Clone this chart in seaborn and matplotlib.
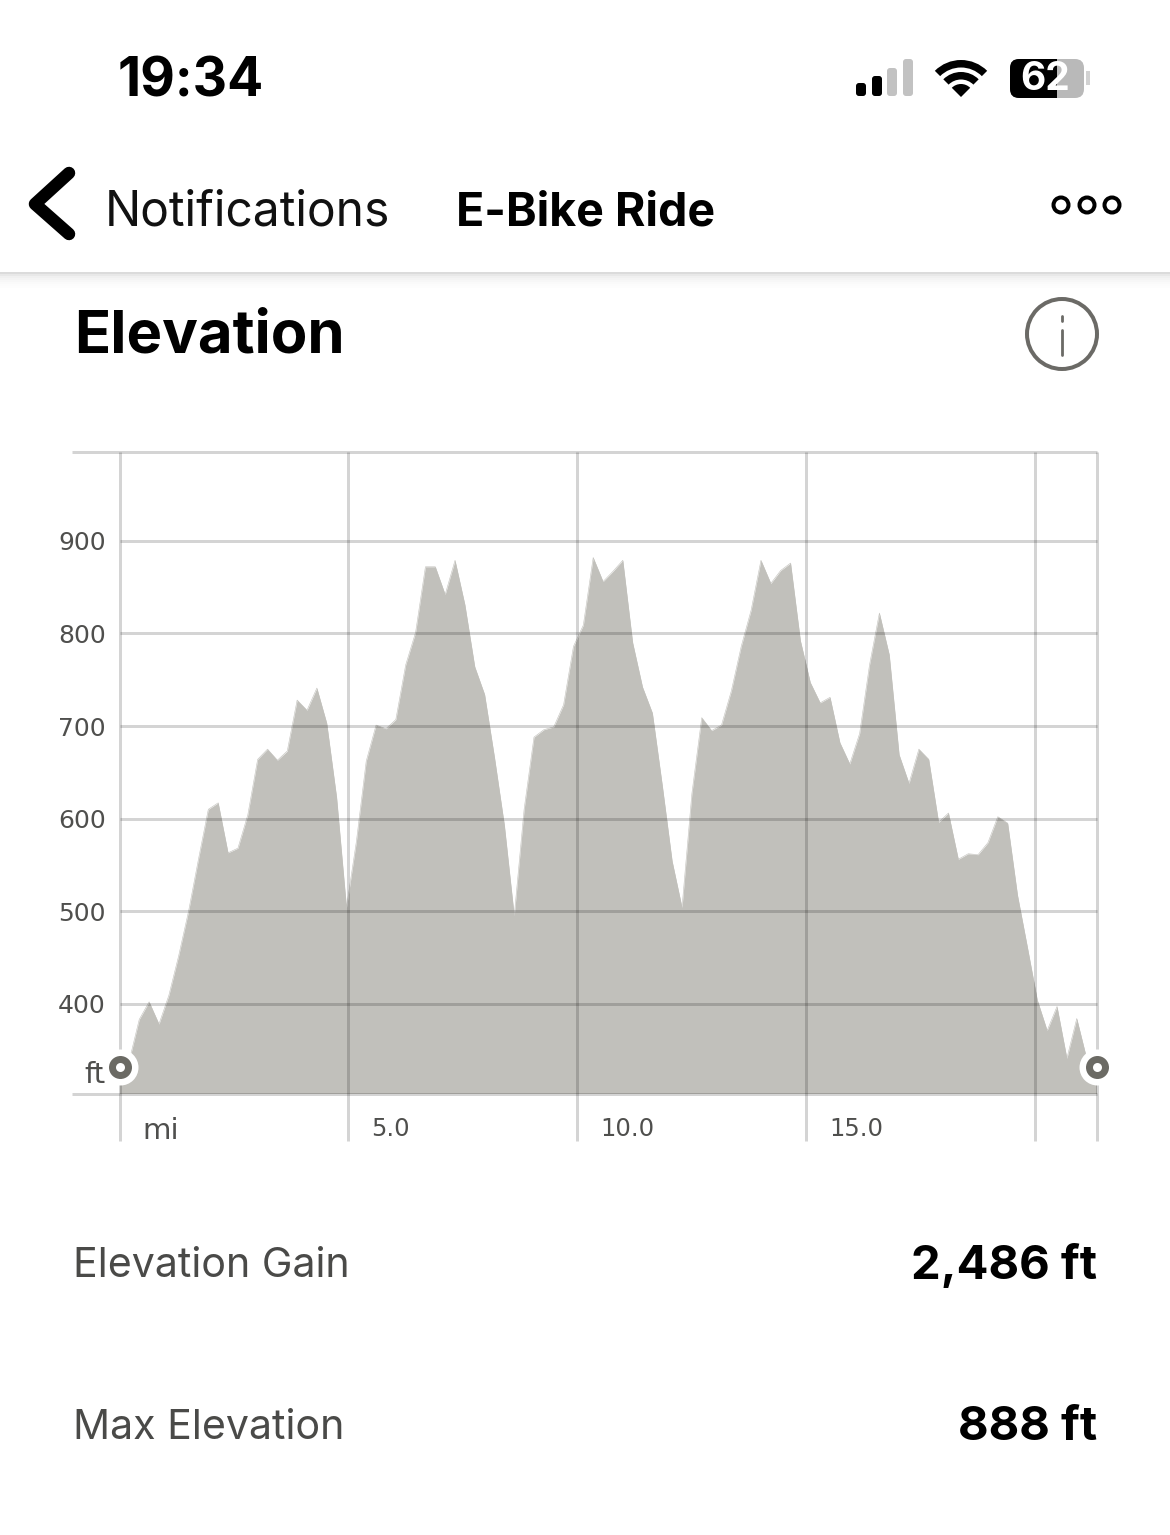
import matplotlib
matplotlib.use("Agg")
import matplotlib.pyplot as plt
import matplotlib.transforms as mtrans
from matplotlib.patches import Circle, FancyBboxPatch, Rectangle, Wedge
import numpy as np
import pandas as pd
import seaborn as sns

elevation_ft = [325, 339, 383, 402, 378, 409, 452, 500, 556, 610,
                617, 563, 568, 604, 664, 675, 663, 673, 728, 717,
                741, 703, 623, 504, 575, 662, 701, 697, 707, 766,
                801, 872, 872, 842, 879, 831, 764, 734, 666, 593,
                495, 610, 688, 696, 699, 723, 786, 809, 882, 856,
                867, 879, 790, 742, 714, 636, 554, 504, 627, 709,
                695, 701, 738, 786, 825, 879, 854, 868, 876, 792,
                747, 725, 731, 682, 659, 692, 766, 822, 777, 669,
                638, 675, 664, 596, 606, 556, 562, 561, 574, 602,
                595, 517, 461, 404, 371, 397, 341, 384, 341, 325]
total_miles = 21.35
y_ticks = [326, 400, 500, 600, 700, 800, 900]
y_labels = ["ft", "400", "500", "600", "700", "800", "900"]
x_ticks = [0, 5, 10, 15]
x_labels = ["mi", "5.0", "10.0", "15.0"]
x_grid = [0, 5, 10, 15, 20, 21.35]
y_grid = [400, 500, 600, 700, 800, 900]
y_floor, y_top = 303, 996
stats = [("Elevation Gain", "2,486 ft"), ("Max Elevation", "888 ft")]

W, H = 1170, 1535
sns.set_theme(style="white")
plt.rcParams["font.family"] = ["Inter", "DejaVu Sans"]
fig = plt.figure(figsize=(W / 100, H / 100), dpi=100, facecolor="white")
PT = 72 / 100

# page chrome, in pixel coordinates
bg = fig.add_axes([0, 0, 1, 1])
bg.set_xlim(0, W); bg.set_ylim(H, 0); bg.axis("off")
bg.text(118, 82, "19:34", fontsize=38.5, fontweight="bold", color="black", va="center", ha="left")
for x0, top, c in [(856, 83, "black"), (872, 76, "black"), (887, 68, "#c2c2c2"), (903, 59, "#c2c2c2")]:
    bg.add_patch(FancyBboxPatch((x0 + 2, top + 2), 6, 96 - top - 4, boxstyle="round,pad=2,rounding_size=3", fc=c, ec="none"))
for ro, w in [(37, 7.5), (25, 7.5), (13, 13)]:
    bg.add_patch(Wedge((961, 97), ro, 225, 315, width=w, fc="black", ec="none"))
batt = FancyBboxPatch((1016, 65), 62, 27, boxstyle="round,pad=6,rounding_size=9", fc="#b9b9b9", ec="none")
bg.add_patch(batt)
dark = FancyBboxPatch((1016, 65), 62, 27, boxstyle="round,pad=6,rounding_size=9", fc="black", ec="none")
bg.add_patch(dark)
dark.set_clip_path(Rectangle((1000, 50), 57, 60, transform=bg.transData))
bg.add_patch(Rectangle((1086, 71), 4, 14, fc="#d2d2d2", ec="none"))
bg.text(1045, 79, "62", fontsize=28, fontweight="bold", color="white", ha="center", va="center")

bg.plot([69, 35, 69], [173, 204, 234], color="black", lw=12.5 * PT, solid_capstyle="round", solid_joinstyle="round")
bg.text(105, 213, "Notifications", fontsize=34.5, color="#111111", va="center", ha="left")
bg.text(456, 213, "E-Bike Ride", fontsize=33.5, fontweight="bold", color="black", va="center", ha="left")
for cx in (1061, 1087, 1112):
    bg.add_patch(Circle((cx, 205), 7.5, fc="white", ec="black", lw=4 * PT))
for i, a in enumerate([0.14, 0.09, 0.06, 0.045, 0.03, 0.02, 0.012, 0.006]):
    bg.add_patch(Rectangle((0, 272 + i * 2), W, 2, fc="black", alpha=a, ec="none"))
bg.text(74, 337, "Elevation", fontsize=43, fontweight="bold", color="black", va="center", ha="left")
bg.add_patch(Circle((1062, 334), 35, fc="white", ec="#6b6a66", lw=4 * PT))
bg.plot([1062, 1062], [330, 355], color="#6b6a66", lw=2.8 * PT)
bg.plot([1062, 1062], [316, 321], color="#6b6a66", lw=2.8 * PT)
for (name, val), y in zip(stats, (1266, 1428)):
    bg.text(73, y, name, fontsize=29.6, color="#4a4a48", va="center", ha="left")
    bg.text(1097, y, val, fontsize=34, fontweight="bold", color="black", va="center", ha="right")

# chart
left, right, top, bottom = 119.5, 1096.5, 452, 1093.5
ax = fig.add_axes([left / W, 1 - bottom / H, (right - left) / W, (bottom - top) / H])
ax.patch.set_alpha(0)
miles = np.linspace(0, total_miles, len(elevation_ft))
df = pd.DataFrame({"miles": miles, "elevation": elevation_ft})
sns.lineplot(data=df, x="miles", y="elevation", ax=ax, color="#c1c0bb", lw=0.4, zorder=2)
ax.fill_between(df["miles"], df["elevation"], y_floor, color="#c1c0bb", lw=0, zorder=2)
ax.set_xlim(0, total_miles)
ax.set_ylim(y_floor, y_top)
ax.set_xlabel(""); ax.set_ylabel("")
sns.despine(ax=ax, left=True, bottom=True)

grid_kw = dict(color="#000000", alpha=0.17, lw=3 * PT, zorder=3, clip_on=False)
x_ext = -48 / ((right - left) / total_miles)
ax.hlines(y_grid, 0, total_miles, **grid_kw)
ax.hlines([y_floor, y_top], x_ext, total_miles, **grid_kw)
ax.vlines(x_grid, y_floor - 47 / ((bottom - top) / (y_top - y_floor)), y_top, **grid_kw)

ax.set_xticks(x_ticks, x_labels)
ax.set_yticks(y_ticks, y_labels)
ax.tick_params(axis="both", length=0, labelcolor="#4f4f4d")
ax.tick_params(axis="y", labelsize=18, pad=10)
ax.tick_params(axis="x", labelsize=17.5, pad=17)
for lab in ax.get_yticklabels() + ax.get_xticklabels():
    lab.set_family("DejaVu Sans")
shift = mtrans.ScaledTranslation(23 / 100, 0, fig.dpi_scale_trans)
for lab in ax.get_xticklabels():
    lab.set_ha("left")
    lab.set_transform(lab.get_transform() + shift)
ax.get_xticklabels()[0].set_fontsize(21)
ax.get_yticklabels()[0].set_fontsize(21)

for xm in (0, total_miles):
    ax.scatter([xm], [332], s=(36 * PT) ** 2, color="white", zorder=5, clip_on=False, lw=0)
    ax.scatter([xm], [332], s=(23 * PT) ** 2, color="#6b6a64", zorder=6, clip_on=False, lw=0)
    ax.scatter([xm], [332], s=(9 * PT) ** 2, color="white", zorder=7, clip_on=False, lw=0)

fig.savefig("out.png", dpi=100, facecolor="white")
